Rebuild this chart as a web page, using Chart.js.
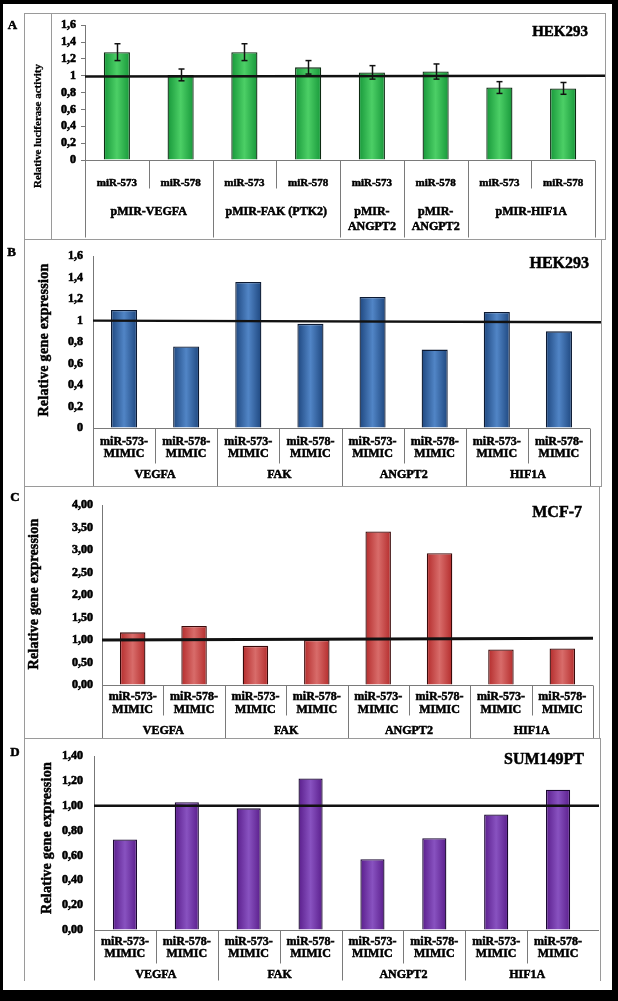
<!DOCTYPE html>
<html>
<head>
<meta charset="utf-8">
<script src="https://cdn.jsdelivr.net/npm/chart.js@4.4.1/dist/chart.umd.min.js"></script>
<style>
html, body { margin: 0; padding: 0; background: #000; }
#page { position: relative; width: 618px; height: 1001px; background: #000; overflow: hidden; }
#sheet { position: absolute; left: 3px; top: 4px; width: 609px; height: 986px; background: #fff; }
.box { position: absolute; border: 1px solid #9a9a9a; box-sizing: border-box; }
.vline { position: absolute; width: 1px; background: #9a9a9a; }
canvas { position: absolute; left: 0; }
.txt { position: absolute; font-family: "Liberation Serif", "Times New Roman", serif; font-weight: bold; color: #000; white-space: nowrap; line-height: 1; -webkit-text-stroke: 0.5px #000; }
.ytitle { transform: translate(-50%, -50%) rotate(-90deg); }
.mid { transform: translate(-50%, -50%); }
</style>
</head>
<body>
<div id="page">
  <div id="sheet"></div>
  <div class="box" style="left:24px;top:13px;width:582px;height:227px;"></div>
  <div class="vline" style="left:51px;top:13px;height:226px;"></div>
  <div class="box" style="left:24px;top:239px;width:578px;height:248px;"></div>
  <div class="box" style="left:24px;top:486px;width:576px;height:253px;"></div>
  <div class="box" style="left:24px;top:738px;width:577px;height:243px;border-bottom:none;"></div>

  <canvas id="cA"></canvas>
  <canvas id="cB"></canvas>
  <canvas id="cC"></canvas>
  <canvas id="cD"></canvas>

  <div class="txt mid" style="left:12.5px;top:23.5px;font-size:13px;">A</div>
  <div class="txt mid" style="left:11.5px;top:250.5px;font-size:13px;">B</div>
  <div class="txt mid" style="left:15px;top:495.5px;font-size:13px;">C</div>
  <div class="txt mid" style="left:15px;top:750.5px;font-size:13px;">D</div>

  <div class="txt ytitle" style="left:37px;top:126px;font-size:11px;-webkit-text-stroke:0.3px #000;">Relative luciferase activity</div>
  <div class="txt ytitle" style="left:44px;top:340px;font-size:14px;letter-spacing:0.3px;">Relative gene expression</div>
  <div class="txt ytitle" style="left:34px;top:594px;font-size:14px;letter-spacing:0.2px;">Relative gene expression</div>
  <div class="txt ytitle" style="left:47px;top:838px;font-size:14px;letter-spacing:0.25px;">Relative gene expression</div>

  <div class="txt" style="right:30px;top:24px;font-size:15px;">HEK293</div>
  <div class="txt" style="right:29px;top:254.5px;font-size:16px;">HEK293</div>
  <div class="txt" style="right:36px;top:504px;font-size:16px;">MCF-7</div>
  <div class="txt" style="right:34px;top:751px;font-size:16px;">SUM149PT</div>
</div>
<script>
const SERIF = '"Liberation Serif", "Times New Roman", serif';
const W = 618;

// ---- data ----
const subLabelsA = ['miR-573', 'miR-578', 'miR-573', 'miR-578', 'miR-573', 'miR-578', 'miR-573', 'miR-578'];
const groupsA = [['pMIR-VEGFA'], ['pMIR-FAK (PTK2)'], ['pMIR-', 'ANGPT2'], ['pMIR-', 'ANGPT2'], ['pMIR-HIF1A']];
const groupSpansA = [2, 2, 1, 1, 2];
const valuesA = [1.28, 1.01, 1.28, 1.10, 1.04, 1.05, 0.86, 0.85];
const errorsA = [0.10, 0.07, 0.10, 0.08, 0.08, 0.09, 0.07, 0.07];
const yTicksA = ['0', '0,2', '0,4', '0,6', '0,8', '1', '1,2', '1,4', '1,6'];

const subLabelsMimic = [
  ['miR-573-', 'MIMIC'], ['miR-578-', 'MIMIC'], ['miR-573-', 'MIMIC'], ['miR-578-', 'MIMIC'],
  ['miR-573-', 'MIMIC'], ['miR-578-', 'MIMIC'], ['miR-573-', 'MIMIC'], ['miR-578-', 'MIMIC']
];
const genes = [['VEGFA'], ['FAK'], ['ANGPT2'], ['HIF1A']];
const geneSpans = [2, 2, 2, 2];

const valuesB = [1.10, 0.76, 1.36, 0.97, 1.22, 0.73, 1.08, 0.90];
const yTicksB = ['0', '0,2', '0,4', '0,6', '0,8', '1', '1,2', '1,4', '1,6'];

const valuesC = [1.17, 1.31, 0.87, 1.00, 3.41, 2.93, 0.79, 0.81];
const yTicksC = ['0,00', '0,50', '1,00', '1,50', '2,00', '2,50', '3,00', '3,50', '4,00'];

const valuesD = [0.73, 1.03, 0.98, 1.22, 0.57, 0.74, 0.93, 1.13];
const yTicksD = ['0,00', '0,20', '0,40', '0,60', '0,80', '1,00', '1,20', '1,40'];

// reference line (value at left, value at right)
const refA = [0.99, 1.0];
const refB = [1.0, 0.985];
const refC = [1.0, 1.04];
const refD = [1.0, 1.0];

// ---- helpers ----
function tubeFill(edge, mid, pct) {
  return (c) => {
    const chart = c.chart, xs = chart.scales.x;
    if (!chart.chartArea || !xs || c.dataIndex === undefined) return edge;
    const cw = chart.chartArea.width / chart.data.labels.length;
    const cx = xs.getPixelForValue(c.dataIndex), hw = cw * pct / 2;
    const g = chart.ctx.createLinearGradient(cx - hw, 0, cx + hw, 0);
    g.addColorStop(0, edge);
    g.addColorStop(0.5, mid);
    g.addColorStop(1, edge);
    return g;
  };
}

function seg(ctx, x1, y1, x2, y2) {
  ctx.beginPath();
  ctx.moveTo(x1, y1);
  ctx.lineTo(x2, y2);
  ctx.stroke();
}

function boldText(ctx, t, x, y) {
  ctx.fillText(t, x, y);
  ctx.strokeText(t, x, y);
}

// category table under the x axis (Excel style)
function tablePlugin(p) {
  return {
    id: 'catTable',
    afterDraw(chart) {
      const ctx = chart.ctx, xs = chart.scales.x, area = chart.chartArea;
      const n = p.labels.length, cw = area.width / n;
      const y0 = Math.round(area.bottom) + 0.5;
      ctx.save();
      ctx.strokeStyle = '#7a7a7a';
      ctx.lineWidth = 1;
      seg(ctx, area.left, y0, p.baseRight, y0);

      const edges = new Set([0]);
      let acc = 0;
      p.groupSpans.forEach((s) => { acc += s; edges.add(acc); });
      for (let i = 0; i <= n; i++) {
        if (i === n && !p.lastSep) continue;
        const x = Math.round(xs.getPixelForValue(Math.min(i, n - 1)) + (i < n ? -cw / 2 : cw / 2)) + 0.5;
        const len = edges.has(i) ? p.groupSepLen : p.subSepLen;
        seg(ctx, x, y0, x, y0 + len);
      }

      ctx.fillStyle = '#000';
      ctx.strokeStyle = '#000';
      ctx.lineWidth = 0.5;
      ctx.textAlign = 'center';
      ctx.textBaseline = 'alphabetic';
      ctx.font = 'bold ' + p.subSize + 'px ' + SERIF;
      p.labels.forEach((lab, i) => {
        const lines = Array.isArray(lab) ? lab : [lab];
        lines.forEach((t, k) => {
          boldText(ctx, t, xs.getPixelForValue(i), y0 + p.subY[k] + p.subSize * 0.33);
        });
      });

      ctx.font = 'bold ' + p.groupSize + 'px ' + SERIF;
      let start = 0;
      p.groups.forEach((g, gi) => {
        const span = p.groupSpans[gi];
        const cx = (xs.getPixelForValue(start) + xs.getPixelForValue(start + span - 1)) / 2;
        g.forEach((t, k) => {
          boldText(ctx, t, cx, y0 + p.groupY + k * p.groupLine + p.groupSize * 0.33);
        });
        start += span;
      });
      ctx.restore();
    }
  };
}

function errPlugin(p) {
  return {
    id: 'errBars',
    afterDatasetsDraw(chart) {
      if (!p.errors) return;
      const ctx = chart.ctx, ys = chart.scales.y;
      const meta = chart.getDatasetMeta(0);
      ctx.save();
      ctx.strokeStyle = '#111';
      ctx.lineWidth = 1.5;
      meta.data.forEach((bar, i) => {
        const v = p.values[i], e = p.errors[i];
        const x = Math.round(bar.x) + 0.5;
        const yt = ys.getPixelForValue(v + e), yb = ys.getPixelForValue(v - e);
        seg(ctx, x, yt, x, yb);
        seg(ctx, x - 3, yt, x + 3, yt);
        seg(ctx, x - 3, yb, x + 3, yb);
      });
      ctx.restore();
    }
  };
}

function refPlugin(p) {
  return {
    id: 'refLine',
    afterDatasetsDraw(chart) {
      const ctx = chart.ctx, ys = chart.scales.y, area = chart.chartArea;
      ctx.save();
      ctx.strokeStyle = '#111';
      ctx.lineWidth = p.refWidth;
      seg(ctx, area.left, ys.getPixelForValue(p.ref[0]), p.refRight, ys.getPixelForValue(p.ref[1]));
      ctx.restore();
    }
  };
}

function makeChart(p) {
  const cv = document.getElementById(p.id);
  cv.width = W;
  cv.height = p.height;
  cv.style.top = p.top + 'px';
  cv.style.width = W + 'px';
  cv.style.height = p.height + 'px';
  const AXIS_W = 40;
  return new Chart(cv, {
    type: 'bar',
    data: {
      labels: p.labels.map((l) => Array.isArray(l) ? l.join(' ') : l),
      datasets: [{
        data: p.values,
        backgroundColor: tubeFill(p.edge, p.mid, p.barPct),
        borderColor: p.border,
        borderWidth: 1.3,
        barPercentage: p.barPct,
        categoryPercentage: 1
      }]
    },
    options: {
      responsive: false,
      animation: false,
      devicePixelRatio: 1,
      layout: { padding: { left: p.axisX - AXIS_W, right: W - p.catRight, top: p.padTop, bottom: p.padBottom } },
      plugins: { legend: { display: false }, tooltip: { enabled: false } },
      scales: {
        x: { display: false, offset: true },
        y: {
          min: 0,
          max: p.max,
          ticks: {
            stepSize: p.step,
            autoSkip: false,
            padding: p.tickPad,
            color: '#000',
            textStrokeColor: '#000',
            textStrokeWidth: 0.6,
            font: { family: SERIF, weight: 'bold', size: p.tickSize },
            callback: (v, i) => p.ticks[i]
          },
          grid: { drawOnChartArea: false, drawTicks: p.tickLen > 0, tickLength: p.tickLen, color: '#777' },
          border: { display: true, color: '#777', width: 1 },
          afterFit: (s) => { s.width = AXIS_W; }
        }
      }
    },
    plugins: [tablePlugin(p), errPlugin(p), refPlugin(p)]
  });
}

makeChart({
  id: 'cA', top: 13, height: 226, axisX: 85, catRight: 595, padTop: 11, padBottom: 79,
  max: 1.6, step: 0.2, ticks: yTicksA, tickLen: 4, tickPad: 5, tickSize: 12,
  labels: subLabelsA, groups: groupsA, groupSpans: groupSpansA, values: valuesA, errors: errorsA,
  lastSep: true, baseRight: 595, subSepLen: 28, groupSepLen: 77, subY: [22], subSize: 11,
  groupY: 51, groupLine: 15, groupSize: 12, ref: refA, refRight: 605, refWidth: 2.5,
  barPct: 0.41, edge: '#17983a', mid: '#4ccf66', border: '#0d2b12'
});

makeChart({
  id: 'cB', top: 239, height: 247, axisX: 93, catRight: 590, padTop: 9, padBottom: 58,
  max: 1.6, step: 0.2, ticks: yTicksB, tickLen: 0, tickPad: 10, tickSize: 12,
  labels: subLabelsMimic, groups: genes, groupSpans: geneSpans, values: valuesB, errors: null,
  lastSep: true, baseRight: 590, subSepLen: 35, groupSepLen: 58, subY: [13, 25], subSize: 12,
  groupY: 46, groupLine: 14, groupSize: 12, ref: refB, refRight: 601, refWidth: 2.5,
  barPct: 0.42, edge: '#1e477f', mid: '#5185c6', border: '#0c1a33'
});

makeChart({
  id: 'cC', top: 486, height: 252, axisX: 102, catRight: 593, padTop: 19, padBottom: 53,
  max: 4, step: 0.5, ticks: yTicksC, tickLen: 0, tickPad: 9, tickSize: 12,
  labels: subLabelsMimic, groups: genes, groupSpans: geneSpans, values: valuesC, errors: null,
  lastSep: true, baseRight: 593, subSepLen: 30, groupSepLen: 53, subY: [11, 24], subSize: 12,
  groupY: 45, groupLine: 14, groupSize: 12, ref: refC, refRight: 593, refWidth: 3,
  barPct: 0.415, edge: '#b42c2c', mid: '#d86c6a', border: '#3a0a0a'
});

makeChart({
  id: 'cD', top: 738, height: 252, axisX: 94, catRight: 589, padTop: 11, padBottom: 60,
  max: 1.4, step: 0.2, ticks: yTicksD, tickLen: 0, tickPad: 11, tickSize: 12,
  labels: subLabelsMimic, groups: genes, groupSpans: geneSpans, values: valuesD, errors: null,
  lastSep: false, baseRight: 599, subSepLen: 33, groupSepLen: 50, subY: [11, 23], subSize: 12,
  groupY: 44, groupLine: 14, groupSize: 12, ref: refD, refRight: 599, refWidth: 2.5,
  barPct: 0.39, edge: '#5a1e8c', mid: '#8852c0', border: '#1a0830'
});
</script>
</body>
</html>
